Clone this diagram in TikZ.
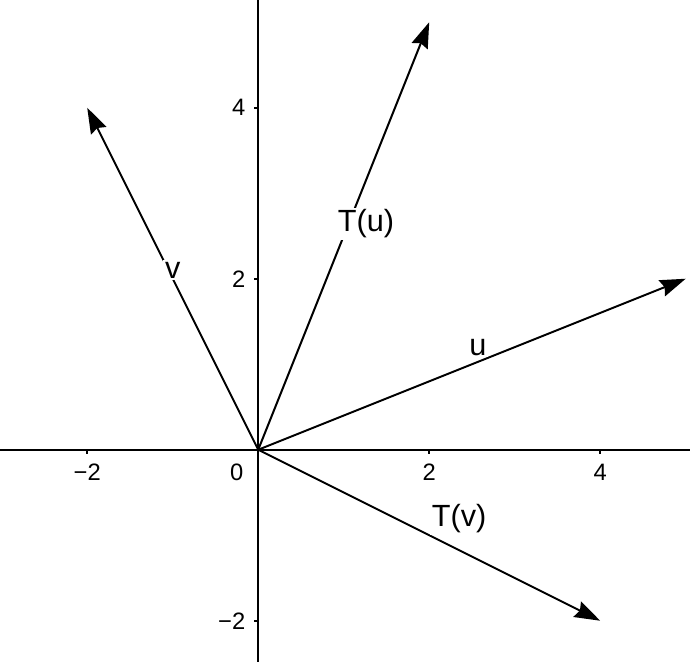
\documentclass[tikz,border=0pt]{standalone}
\usepackage{fontspec}
\setmainfont{Liberation Sans}
\usetikzlibrary{arrows.meta}
\tikzset{
  ticklabel/.style={font=\fontsize{7.9}{9}\selectfont,inner sep=0pt},
  veclabel/.style={font=\fontsize{10.2}{12}\selectfont,fill=white,inner sep=0.6pt},
}
\begin{document}
\begin{tikzpicture}[x=1cm,y=1cm,>={Stealth[length=3mm,width=2mm,inset=0.35mm]},line width=0.65pt]
  \useasboundingbox (-3.02,-2.48) rectangle (5.05,5.26);
  % axes
  \draw (-3.02,0) -- (5.05,0);
  \draw (0,-2.48) -- (0,5.26);
  \foreach \t/\s in {-2/−2,2/2,4/4} {
    \draw (\t,0) -- (\t,-0.05);
    \node[ticklabel] (x\t) at (\t,-0.26) {\s};
    \draw (0,\t) -- (-0.05,\t);
    \node[ticklabel,anchor=east] (y\t) at (-0.14,\t) {\s};
  }
  \node[ticklabel] (zero) at (-0.25,-0.26) {0};
  % vectors
  \coordinate (O) at (0,0);
  \coordinate (u) at (5,2);
  \coordinate (v) at (-2,4);
  \coordinate (Tu) at (2,5);
  \coordinate (Tv) at (4,-2);
  \draw[->] (O) -- (u);
  \draw[->] (O) -- (v);
  \draw[->] (O) -- (Tu);
  \draw[->] (O) -- (Tv);
  \node[veclabel] (lv) at (-1.0,2.1) {v};
  \node[veclabel] (lTu) at (1.26,2.64) {T(u)};
  \node[veclabel] (lu) at (2.57,1.2) {u};
  \node[veclabel] (lTv) at (2.35,-0.81) {T(v)};
\end{tikzpicture}
\end{document}
